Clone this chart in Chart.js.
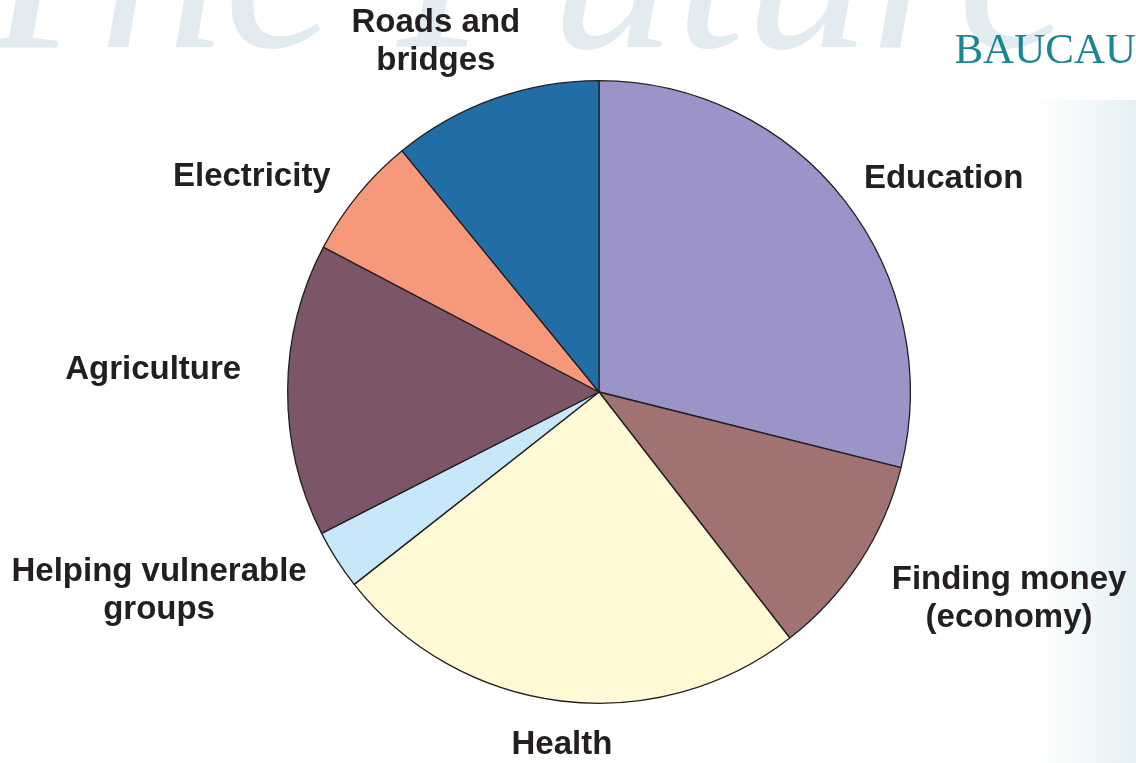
<!DOCTYPE html>
<html><head><meta charset="utf-8">
<script src="https://cdn.jsdelivr.net/npm/chart.js@4"></script>
<style>html,body{margin:0;padding:0;background:#fff;}#wrap{width:1136px;height:763px;position:relative;}</style>
</head><body><div id="wrap"><canvas id="c" width="1136" height="763"></canvas></div>
<script>
const categories = ["Education", "Finding money (economy)", "Health", "Helping vulnerable groups", "Agriculture", "Electricity", "Roads and bridges"];
const values = [28.9, 10.6, 24.9, 3.1, 15.2, 6.4, 10.9];
const colors = ["#9B94C8", "#A07272", "#FFF9D6", "#C6E8F8", "#7D5568", "#F6997B", "#216DA6"];
const labelLines = [["Education"], ["Finding money", "(economy)"], ["Health"], ["Helping vulnerable", "groups"], ["Agriculture"], ["Electricity"], ["Roads and", "bridges"]];
// label anchor offsets relative to pie centre, in units of the radius
const labelOffsets = [[1.107, -0.686], [1.317, 0.666], [-0.119, 1.134], [-1.413, 0.638], [-1.432, -0.07], [-1.115, -0.691], [-0.524, -1.125]];

const bgPlugin = {
  id: 'bg',
  beforeDraw(chart) {
    const ctx = chart.ctx;
    ctx.save();
    ctx.fillStyle = '#fff';
    ctx.fillRect(0, 0, chart.width, chart.height);
    const g = ctx.createLinearGradient(1030, 0, 1136, 0);
    g.addColorStop(0, 'rgba(220,236,240,0)');
    g.addColorStop(1, 'rgba(210,230,236,0.6)');
    ctx.fillStyle = g;
    ctx.fillRect(1030, 100, 106, 663);
    ctx.fillStyle = '#E1EBF0';
    ctx.font = 'italic 250px "Liberation Serif"';
    ctx.textBaseline = 'alphabetic';
    ctx.fillText('The Future', -40, 47);
    ctx.fillStyle = '#1B8690';
    ctx.font = '43px "Liberation Serif"';
    ctx.textAlign = 'right';
    ctx.fillText('BAUCAU', 1136, 63);
    ctx.restore();
  }
};

const labelPlugin = {
  id: 'labels',
  afterDraw(chart) {
    const ctx = chart.ctx;
    const arc = chart.getDatasetMeta(0).data[0];
    const cx = arc.x, cy = arc.y, r = arc.outerRadius;
    ctx.save();
    ctx.fillStyle = '#231F20';
    ctx.font = 'bold 33px "Liberation Sans", Arial, sans-serif';
    ctx.textAlign = 'center';
    ctx.textBaseline = 'middle';
    const lh = 38;
    labelLines.forEach((lines, i) => {
      const x = cx + labelOffsets[i][0] * r;
      const y = cy + labelOffsets[i][1] * r;
      const y0 = y - (lines.length - 1) * lh / 2;
      lines.forEach((t, j) => ctx.fillText(t, x, y0 + j * lh));
    });
    ctx.restore();
  }
};

new Chart(document.getElementById('c'), {
  type: 'pie',
  data: { labels: categories, datasets: [{ data: values, backgroundColor: colors, borderColor: '#231F20', borderWidth: 1.3 }] },
  options: {
    responsive: false,
    animation: false,
    layout: { padding: { top: 80, bottom: 59, left: 287, right: 225 } },
    plugins: { legend: { display: false }, tooltip: { enabled: false } }
  },
  plugins: [bgPlugin, labelPlugin]
});
</script></body></html>
